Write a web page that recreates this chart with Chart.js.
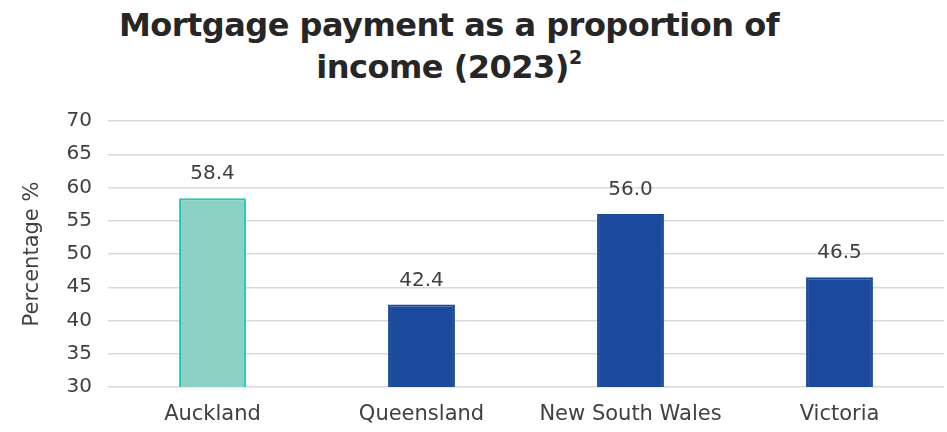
<!DOCTYPE html>
<html>
<head>
<meta charset="utf-8">
<script src="https://cdn.jsdelivr.net/npm/chart.js@4.4.1/dist/chart.umd.min.js"></script>
<style>
  html, body { margin: 0; padding: 0; background: #fff; }
  .wrap { position: relative; width: 947px; height: 432px; }
  .title {
    position: absolute; left: 0; top: 4px; width: 898px;
    text-align: center; font-family: "DejaVu Sans", sans-serif; font-weight: bold;
    font-size: 32px; line-height: 42px; color: #262626; letter-spacing: -0.5px;
  }
  .title sup { font-size: 19px; vertical-align: 14px; line-height: 0; }
  canvas { position: absolute; left: 0; top: 0; }
</style>
</head>
<body>
<div class="wrap">
  <div class="title">Mortgage payment as a proportion of<br>income (2023)<sup>2</sup></div>
  <canvas id="mortgageChart" width="947" height="432"></canvas>
</div>
<script>
const regions = ["Auckland", "Queensland", "New South Wales", "Victoria"];
const paymentShare = [58.4, 42.4, 56.0, 46.5];
const barFill = ["#8dd0c5", "#1b4a9c", "#1b4a9c", "#1b4a9c"];
const barEdge = ["#1fcbb0", "#1b4a9c", "#1b4a9c", "#1b4a9c"];

const textColor = "#404040";
const fontFamily = "'DejaVu Sans', sans-serif";

// value labels sitting above each bar
const valueLabels = {
  id: 'valueLabels',
  afterDatasetsDraw(chart) {
    const ctx = chart.ctx;
    const meta = chart.getDatasetMeta(0);
    ctx.save();
    ctx.font = "20px " + fontFamily;
    ctx.fillStyle = textColor;
    ctx.textAlign = "center";
    ctx.textBaseline = "bottom";
    meta.data.forEach((bar, i) => {
      ctx.fillText(paymentShare[i].toFixed(1), bar.x, bar.y - 14);
    });
    ctx.restore();
  }
};

const ctx = document.getElementById('mortgageChart').getContext('2d');
new Chart(ctx, {
  type: 'bar',
  data: {
    labels: regions,
    datasets: [{
      data: paymentShare,
      backgroundColor: barFill,
      borderColor: barEdge,
      borderWidth: 2,
      borderSkipped: 'bottom',
      categoryPercentage: 1,
      barPercentage: 0.32
    }]
  },
  options: {
    responsive: false,
    animation: false,
    layout: { padding: { top: 121, right: 3, bottom: 0, left: 18 } },
    plugins: {
      legend: { display: false },
      tooltip: { enabled: false }
    },
    scales: {
      x: {
        grid: { display: false, drawTicks: false },
        border: { display: false },
        ticks: { color: textColor, font: { family: fontFamily, size: 21 }, padding: 15 },
        afterFit(scale) { scale.height = 45; }
      },
      y: {
        min: 30,
        max: 70,
        ticks: { stepSize: 5, color: textColor, font: { family: fontFamily, size: 20 }, padding: 16 },
        grid: { color: "#d9d9d9", lineWidth: 1.5, drawTicks: false },
        border: { display: false },
        title: {
          display: true,
          text: "Percentage %",
          color: textColor,
          font: { family: fontFamily, size: 21 },
          padding: 2
        },
        afterFit(scale) { scale.width = 90; }
      }
    }
  },
  plugins: [valueLabels]
});
</script>
</body>
</html>
